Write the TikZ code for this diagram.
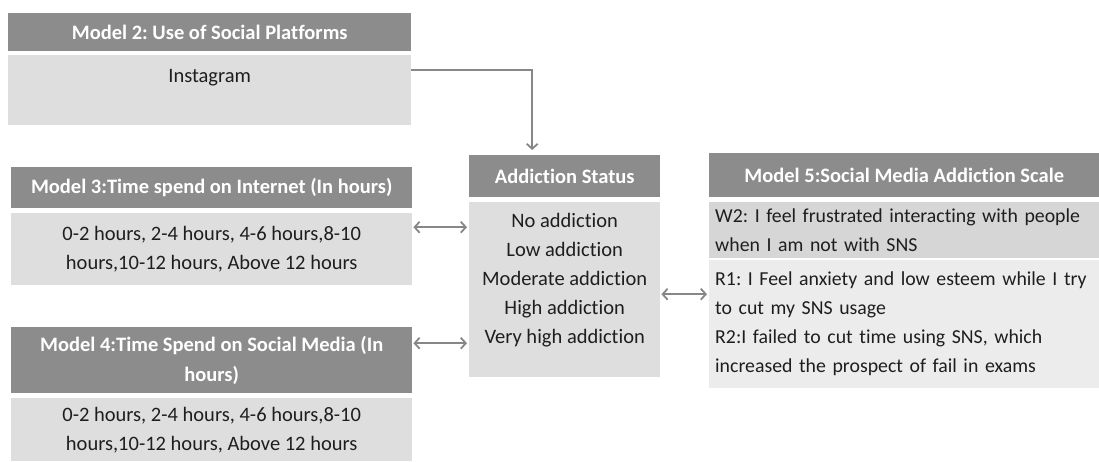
\documentclass[tikz,border=0pt]{standalone}
\usepackage{fontspec}
\setmainfont{Carlito}[Ligatures=NoCommon]
\usetikzlibrary{arrows.meta}
\definecolor{headgray}{RGB}{140,140,140}
\definecolor{bodygray}{RGB}{222,222,222}
\definecolor{wrowgray}{RGB}{214,214,214}
\definecolor{rrowgray}{RGB}{236,236,236}
\definecolor{linkgray}{RGB}{135,135,135}
\definecolor{textdark}{RGB}{30,30,30}
\frenchspacing

\begin{document}
\begin{tikzpicture}[
      x=1pt, y=-1pt,
      every node/.style={font=\fontsize{20.5}{29}\selectfont, inner sep=0pt, anchor=north west},
      head/.style={fill=headgray, text=white, font=\fontsize{20.5}{30}\selectfont\bfseries, align=center},
      body/.style={fill=bodygray, text=textdark, align=center},
      item/.style={text=textdark, font=\fontsize{19.8}{29}\selectfont, align=left, inner xsep=6pt, text width=378pt, minimum height=#1},
      link/.style={draw=linkgray, line width=1.8pt, -{Straight Barb[length=5pt,width=11pt]}},
      dbl/.style={draw=linkgray, line width=1.8pt, {Straight Barb[length=5pt,width=11pt]}-{Straight Barb[length=5pt,width=11pt]}, shorten <=1pt, shorten >=2pt},
    ]

    \useasboundingbox (0,0) rectangle (1099,461);

    % left column
    \node[head, minimum width=403pt, minimum height=38pt] (m2head) at (8,13) {Model 2: Use of Social Platforms};
    \node[body, minimum width=403pt, minimum height=70pt] (m2body) at (8,55) {Instagram\\\mbox{}};

    \node[head, minimum width=401pt, minimum height=41pt] (m3head) at (11,167) {Model 3:Time spend on Internet (In hours)};
    \node[body, minimum width=401pt, minimum height=72pt] (m3body) at (11,213) {0-2 hours, 2-4 hours, 4-6 hours,8-10\\hours,10-12 hours, Above 12 hours};

    \node[head, minimum width=401pt, minimum height=66pt] (m4head) at (11,327) {Model 4:Time Spend on Social Media (In\\hours)};
    \node[body, minimum width=401pt, minimum height=63pt] (m4body) at (11,398) {0-2 hours, 2-4 hours, 4-6 hours,8-10\\hours,10-12 hours, Above 12 hours};

    % middle
    \node[head, minimum width=191pt, minimum height=42pt] (addhead) at (469,155) {Addiction Status};
    \node[body, minimum width=191pt, minimum height=175pt] (addbody) at (469,202) {No addiction\\Low addiction\\Moderate addiction\\High addiction\\Very high addiction\\[-7pt]\mbox{}};

    % right column
    \node[head, minimum width=390pt, minimum height=44pt] (m5head) at (709,153) {Model 5:Social Media Addiction Scale};
    \node[item=56pt, fill=wrowgray] (wrow) at (709,202) {\mbox{W2: I feel frustrated interacting with people}\\\mbox{when I am not with SNS}};
    \node[item=128pt, fill=rrowgray] (rrow) at (709,260) {\mbox{R1: I Feel anxiety and low esteem while I try}\\\mbox{to cut my SNS usage}\\\mbox{R2:I failed to cut time using SNS, which}\\\mbox{increased the prospect of fail in exams}};

    % connectors
    \coordinate (c2) at ([yshift=20pt]m2body.east);
    \coordinate (c3) at ([yshift=22pt]m3body.east);
    \coordinate (c4) at ([yshift=17pt]m4head.east);
    \coordinate (c5) at ([yshift=-4.5pt]addbody.east);

    \draw[link] (c2) -| ([xshift=-32.5pt,yshift=5pt]addhead.north);
    \draw[dbl] (c3) -- (c3 -| addbody.west);
    \draw[dbl] (c4) -- (c4 -| addbody.west);
    \draw[dbl] (c5) -- (c5 -| rrow.west);

  \end{tikzpicture}
\end{document}
